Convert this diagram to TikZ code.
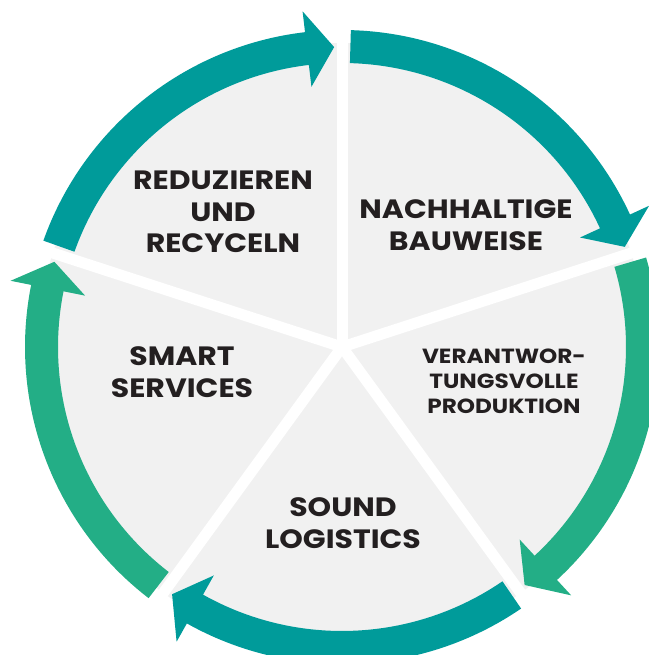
\documentclass[tikz,border=0pt]{standalone}
\usepackage{fontspec}
\setmainfont{Poppins}[FakeStretch=1.13]
\definecolor{tealc}{HTML}{009B9A}
\definecolor{greenc}{HTML}{23AE86}
\definecolor{diskc}{HTML}{F1F1F1}
\definecolor{txtc}{HTML}{231F20}
\tikzset{
  lab/.style={align=center, text=txtc, font=\fontsize{26.5}{31.5}\selectfont\bfseries, inner sep=0pt},
  labs/.style={align=center, text=txtc, font=\fontsize{20.5}{25}\selectfont\bfseries, inner sep=0pt},
  spoke/.style={white, line width=11pt, line cap=butt}
}
\begin{document}
\begin{tikzpicture}[x=1pt,y=1pt]
\useasboundingbox (0,0) rectangle (648,655);
\begin{scope}[shift={(342,308)}]
  \coordinate (C) at (0,0);
  \fill[diskc] (C) circle[radius=304];
  \foreach \a in {90,18,-54,-126,162} {
    \draw[spoke] (C) -- (\a:310);
  }
  \foreach \s/\e/\c [evaluate=\s as \aT using \s-1.6, evaluate=\e as \aP using \e+1.5, evaluate=\e as \aH using \e+1.5+5.2] in {162/90/tealc, 90/18/tealc, 18/-54/greenc, -54/-126/tealc, -126/-198/greenc} {
    \fill[\c] (\aT:317) arc[start angle=\aT, end angle=\aH, radius=317]
      -- (\aH:338) -- (\aP:300) -- (\aH:262) -- (\aH:284)
      arc[start angle=\aH, end angle=\aT, radius=284] -- cycle;
  }
\end{scope}
\node[lab] (t1) at (223,443) {REDUZIEREN\\UND\\RECYCELN};
\node[lab] (t2) at (466,430) {NACHHALTIGE\\BAUWEISE};
\node[labs] (t3) at (504,274) {VERANTWOR-\\TUNGSVOLLE\\PRODUKTION};
\node[lab] (t4) at (182,283) {SMART\\SERVICES};
\node[lab] (t5) at (343,132) {SOUND\\LOGISTICS};
\end{tikzpicture}
\end{document}
